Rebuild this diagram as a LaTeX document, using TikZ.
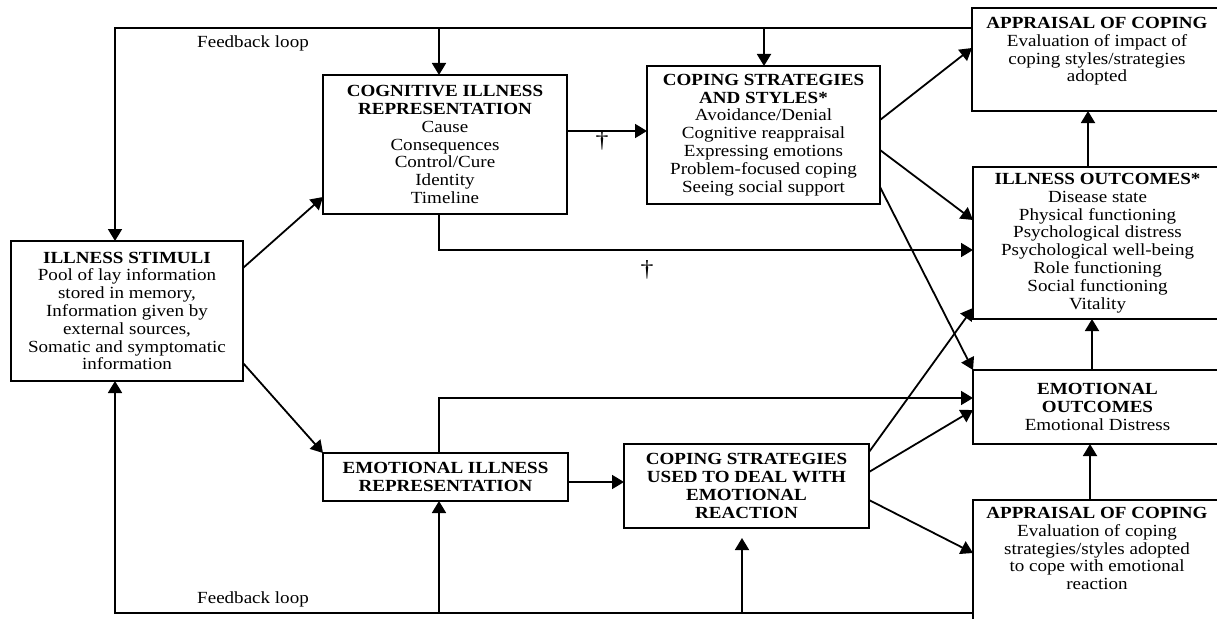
\documentclass[tikz,border=0pt]{standalone}
\usepackage{fontspec}
\setmainfont{Liberation Serif}[FakeStretch=1.12]
\usetikzlibrary{arrows.meta,calc}
\begin{document}
\begin{tikzpicture}[x=1pt,y=-1pt,
  box/.style={draw,line width=1.8pt,rectangle,outer sep=0pt,inner sep=0pt,align=center,
    font=\fontsize{17}{17.8}\selectfont},
  txt/.style={align=center,inner sep=0pt,font=\fontsize{17}{17.8}\selectfont},
  dagstyle/.style={inner sep=0pt,font=\fontsize{23}{23}\selectfont},
  arr/.style={line width=1.8pt,-{Triangle[length=12pt,width=14pt]}},
  ln/.style={line width=1.8pt}]
\useasboundingbox (0,0) rectangle (1217,618);
\clip (0,0) rectangle (1217,618);
% boxes
\node[box,minimum width=232pt,minimum height=140pt] (stim) at (127,311)
  {\textbf{ILLNESS STIMULI}\\Pool of lay information\\stored in memory,\\Information given by\\external sources,\\Somatic and symptomatic\\information};
\node[box,minimum width=244pt,minimum height=139pt] (cog) at (445,144.5)
  {\textbf{COGNITIVE ILLNESS}\\\textbf{REPRESENTATION}\\Cause\\Consequences\\Control/Cure\\Identity\\Timeline};
\node[box,minimum width=233pt,minimum height=138pt] (cop) at (763.5,135)
  {\textbf{COPING STRATEGIES}\\\textbf{AND STYLES*}\\Avoidance/Denial\\Cognitive reappraisal\\Expressing emotions\\Problem-focused coping\\Seeing social support};
\node[box,minimum width=250pt,minimum height=103pt] (app1) at (1097,59.5) {};
\node[txt,anchor=north] (app1t) at (1097,17)
  {\textbf{APPRAISAL OF COPING}\\Evaluation of impact of\\coping styles/strategies\\adopted};
\node[box,minimum width=249pt,minimum height=152pt] (out) at (1097.5,243)
  {\textbf{ILLNESS OUTCOMES*}\\Disease state\\Physical functioning\\Psychological distress\\Psychological well-being\\Role functioning\\Social functioning\\Vitality};
\node[box,minimum width=249pt,minimum height=74pt] (emo) at (1097.5,407)
  {\textbf{EMOTIONAL}\\\textbf{OUTCOMES}\\Emotional Distress};
\node[box,minimum width=249pt,minimum height=140pt] (app2) at (1097.5,570) {};
\node[txt,anchor=north] (app2t) at (1097,507)
  {\textbf{APPRAISAL OF COPING}\\Evaluation of coping\\strategies/styles adopted\\to cope with emotional\\reaction};
\node[box,minimum width=245pt,minimum height=48pt] (erep) at (445.5,477)
  {\textbf{EMOTIONAL ILLNESS}\\\textbf{REPRESENTATION}};
\node[box,minimum width=245pt,minimum height=84pt] (cemo) at (746.5,486)
  {\textbf{COPING STRATEGIES}\\\textbf{USED TO DEAL WITH}\\\textbf{EMOTIONAL}\\\textbf{REACTION}};
% labels
\node[txt] (fbtop) at (253,43) {Feedback loop};
\node[txt] (fbbot) at (253,599) {Feedback loop};
\node[dagstyle] (dag1) at (602,141) {†};
\node[dagstyle] (dag2) at (647,270) {†};
% top feedback loop
\coordinate (fbTL) at (115,28);
\draw[arr] ($(app1.north west)+(0,20)$) -- (fbTL) -- (fbTL |- stim.north);
\coordinate (t1) at (439,28);
\draw[arr] (t1) -- (t1 |- cog.north);
\coordinate (t2) at (764,28);
\draw[arr] (t2) -- (t2 |- cop.north);
% bottom feedback loop
\coordinate (fbBL) at (115,613);
\draw[arr] (fbBL -| app2.west) -- (fbBL) -- (fbBL |- stim.south);
\coordinate (b1) at (439,613);
\draw[arr] (b1) -- (b1 |- erep.south);
\coordinate (b2) at (742,613);
\draw[arr] (b2) -- ($(b2 |- cemo.south)+(0,10)$);
% stimuli to representations
\draw[arr] ($(stim.north east)+(0,27)$) -- ($(cog.north west)+(0,122)$);
\draw[arr] ($(stim.south east)+(0,-18)$) -- (erep.north west);
% cognitive
\draw[arr] ([yshift=13.5pt]cog.east) -- ([yshift=13.5pt]cog.east -| cop.west);
\coordinate (k) at (439,250);
\draw[arr] (k |- cog.south) -- (k) -- (k -| out.west);
% coping styles
\draw[arr] ([yshift=15pt]cop.east) -- ($(app1.north west)+(0,40)$);
\draw[arr] ([yshift=-15pt]cop.east) -- ($(out.north west)+(0,53)$);
\draw[arr] ($(cop.south east)+(0,-17)$) -- (emo.north west);
% emotional representation
\coordinate (m) at (439,398);
\draw[arr] (m |- erep.north) -- (m) -- (m -| emo.west);
\draw[arr] ([yshift=-5pt]erep.east) -- ([yshift=-5pt]erep.east -| cemo.west);
% coping emotional
\draw[arr] ($(cemo.north east)+(0,8)$) -- ($(out.south west)+(0,-11)$);
\draw[arr] ($(cemo.north east)+(0,28)$) -- ($(emo.north west)+(0,40)$);
\draw[arr] ($(cemo.north east)+(0,56)$) -- ($(app2.north west)+(0,53)$);
% right column
\coordinate (u1) at (1088,0);
\draw[arr] (u1 |- out.north) -- (u1 |- app1.south);
\coordinate (u2) at (1092,0);
\draw[arr] (u2 |- emo.north) -- (u2 |- out.south);
\coordinate (u3) at (1090,0);
\draw[arr] (u3 |- app2.north) -- (u3 |- emo.south);
\end{tikzpicture}
\end{document}
